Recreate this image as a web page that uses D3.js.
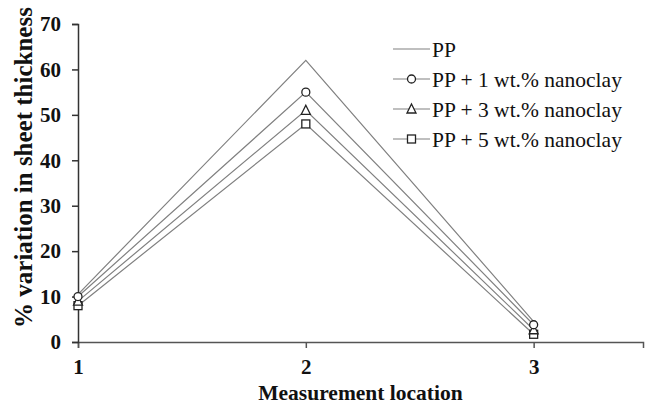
<!DOCTYPE html>
<html>
<head>
<meta charset="utf-8">
<script src="https://cdn.jsdelivr.net/npm/d3@7"></script>
<style>
  body { margin: 0; background: #fff; }
</style>
</head>
<body>
<div id="chart"></div>
<script>
// Data
const locations = [1, 2, 3];
const seriesNames = ["PP", "PP + 1 wt.% nanoclay", "PP + 3 wt.% nanoclay", "PP + 5 wt.% nanoclay"];
const ppValues = [10.5, 62, 4.5];
const pp1Values = [10, 55, 3.8];
const pp3Values = [9, 51, 2.7];
const pp5Values = [8, 48, 1.7];
const markers = ["none", "circle", "triangle", "square"];
const yTicks = [0, 10, 20, 30, 40, 50, 60, 70];

const series = seriesNames.map((name, i) => ({
    name: name,
    marker: markers[i],
    values: [ppValues, pp1Values, pp3Values, pp5Values][i]
}));

const serif = "'Times New Roman', Times, serif";

const margin = { top: 24, right: 4, bottom: 65, left: 78 };
const width = 647 - margin.left - margin.right;
const height = 407 - margin.top - margin.bottom;

const svg = d3.select("#chart")
    .append("svg")
    .attr("width", 647)
    .attr("height", 407)
    .append("g")
    .attr("transform", `translate(${margin.left},${margin.top})`);

const x = d3.scaleLinear()
    .domain([1, 3.48])
    .range([0, width]);

const y = d3.scaleLinear()
    .domain([0, 70])
    .range([height, 0]);

// Axes
const xAxis = svg.append("g")
    .call(d3.axisBottom(x).tickValues(locations).tickFormat(d3.format("d")).tickSizeOuter(0).tickSize(6))
    .attr("transform", `translate(0,${height})`)
    .attr("font-family", serif);
xAxis.select(".domain").attr("stroke", "#555").attr("stroke-width", 1.5);
xAxis.selectAll(".tick line").attr("stroke", "#555").attr("stroke-width", 1.5);
xAxis.selectAll("text")
    .attr("dy", "1.1em")
    .style("font-family", serif)
    .style("font-size", "21px")
    .style("font-weight", "bold")
    .attr("fill", "#111");

const yAxis = svg.append("g")
    .call(d3.axisLeft(y).tickValues(yTicks).tickSizeOuter(0).tickSize(6))
    .attr("font-family", serif);
yAxis.select(".domain").attr("stroke", "#333").attr("stroke-width", 1.5);
yAxis.selectAll(".tick line").attr("stroke", "#333").attr("stroke-width", 1.5);
yAxis.selectAll("text")
    .attr("x", -17)
    .style("font-family", serif)
    .style("font-size", "21px")
    .style("font-weight", "bold")
    .attr("fill", "#111");

// Axis titles
svg.append("text")
    .attr("x", width / 2)
    .attr("y", height + 58)
    .attr("text-anchor", "middle")
    .style("font-family", serif)
    .style("font-size", "21.5px")
    .style("font-weight", "bold")
    .attr("fill", "#111")
    .text("Measurement location");

svg.append("text")
    .attr("transform", "rotate(-90)")
    .attr("x", -(342 - 12 - 325 / 2 - margin.top))
    .attr("y", -margin.left + 32)
    .attr("text-anchor", "middle")
    .style("font-family", serif)
    .style("font-size", "25px")
    .style("font-weight", "bold")
    .attr("fill", "#111")
    .text("% variation in sheet thickness");

// Lines
const line = d3.line()
    .x((d, i) => x(locations[i]))
    .y(d => y(d));

svg.selectAll(".series")
    .data(series)
    .enter()
    .append("path")
    .attr("fill", "none")
    .attr("stroke", "#808080")
    .attr("stroke-width", 1.2)
    .attr("d", d => line(d.values));

// Markers
function drawMarker(g, type, cx, cy) {
    if (type === "circle") {
        g.append("circle").attr("cx", cx).attr("cy", cy).attr("r", 4)
            .attr("fill", "#fff").attr("stroke", "#222").attr("stroke-width", 1.3);
    } else if (type === "triangle") {
        const s = 5;
        g.append("path")
            .attr("d", `M${cx},${cy - s}L${cx + s * 0.9},${cy + s * 0.8}L${cx - s * 0.9},${cy + s * 0.8}Z`)
            .attr("fill", "#fff").attr("stroke", "#222").attr("stroke-width", 1.3);
    } else if (type === "square") {
        g.append("rect").attr("x", cx - 4).attr("y", cy - 4).attr("width", 8).attr("height", 8)
            .attr("fill", "#fff").attr("stroke", "#222").attr("stroke-width", 1.3);
    }
}

const markG = svg.append("g");
series.slice().reverse().forEach(s => {
    s.values.forEach((v, i) => drawMarker(markG, s.marker, x(locations[i]), y(v)));
});

// Legend
const legend = svg.append("g")
    .attr("transform", `translate(${393 - margin.left}, ${49 - margin.top})`);

series.forEach((s, i) => {
    const gy = i * 30;
    legend.append("line")
        .attr("x1", 0).attr("x2", 37)
        .attr("y1", gy).attr("y2", gy)
        .attr("stroke", "#808080")
        .attr("stroke-width", 1.2);
    drawMarker(legend, s.marker, 18.5, gy);
    legend.append("text")
        .attr("x", 39)
        .attr("y", gy)
        .attr("dy", "0.35em")
        .style("font-family", serif)
        .style("font-size", "21.5px")
        .attr("fill", "#111")
        .text(s.name);
});
</script>
</body>
</html>
